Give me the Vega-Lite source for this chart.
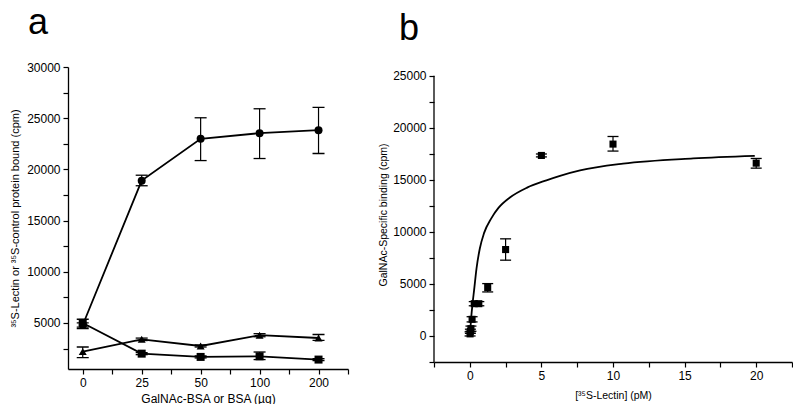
{
  "$schema": "https://vega.github.io/schema/vega-lite/v6.json",
  "padding": {"left": 9, "top": 5, "right": 0, "bottom": 0},
  "spacing": 29,
  "config": {
    "font": "Liberation Sans",
    "view": {"stroke": null},
    "axis": {
      "grid": false,
      "domainColor": "black",
      "tickColor": "black",
      "labelColor": "black",
      "titleColor": "black",
      "labelFontSize": 12,
      "titleFontSize": 11,
      "titleFontWeight": "normal",
      "tickSize": 5,
      "domainWidth": 1.3,
      "tickWidth": 1.2,
      "labelPadding": 3
    },
    "title": {"color": "black"}
  },
  "datasets": {
    "panelA": [
      {"series": "lectin_galnac", "idx": 0, "amount": 0, "cpm": 4800, "lo": 4600, "hi": 5000},
      {"series": "lectin_galnac", "idx": 1, "amount": 25, "cpm": 18900, "lo": 18400, "hi": 19430},
      {"series": "lectin_galnac", "idx": 2, "amount": 50, "cpm": 22980, "lo": 20860, "hi": 25040},
      {"series": "lectin_galnac", "idx": 3, "amount": 100, "cpm": 23540, "lo": 21060, "hi": 25920},
      {"series": "lectin_galnac", "idx": 4, "amount": 200, "cpm": 23830, "lo": 21550, "hi": 26050},
      {"series": "lectin_bsa", "idx": 0, "amount": 0, "cpm": 2200, "lo": 1610, "hi": 2650},
      {"series": "lectin_bsa", "idx": 1, "amount": 25, "cpm": 3400, "lo": 3280, "hi": 3520},
      {"series": "lectin_bsa", "idx": 2, "amount": 50, "cpm": 2750, "lo": 2650, "hi": 2850},
      {"series": "lectin_bsa", "idx": 3, "amount": 100, "cpm": 3800, "lo": 3650, "hi": 3950},
      {"series": "lectin_bsa", "idx": 4, "amount": 200, "cpm": 3530, "lo": 3300, "hi": 3870},
      {"series": "control", "idx": 0, "amount": 0, "cpm": 5000, "lo": 4450, "hi": 5360},
      {"series": "control", "idx": 1, "amount": 25, "cpm": 2000, "lo": 1900, "hi": 2100},
      {"series": "control", "idx": 2, "amount": 50, "cpm": 1680, "lo": 1580, "hi": 1780},
      {"series": "control", "idx": 3, "amount": 100, "cpm": 1740, "lo": 1420, "hi": 2160},
      {"series": "control", "idx": 4, "amount": 200, "cpm": 1420, "lo": 1330, "hi": 1510}
    ],
    "panelB": [
      {"pM": 0.02, "cpm": 200, "lo": 0, "hi": 400},
      {"pM": 0.04, "cpm": 450, "lo": 250, "hi": 650},
      {"pM": 0.08, "cpm": 700, "lo": 450, "hi": 950},
      {"pM": 0.16, "cpm": 1600, "lo": 1350, "hi": 1850},
      {"pM": 0.31, "cpm": 3100, "lo": 2900, "hi": 3300},
      {"pM": 0.63, "cpm": 3100, "lo": 2900, "hi": 3300},
      {"pM": 1.25, "cpm": 4650, "lo": 4230, "hi": 5030},
      {"pM": 2.5, "cpm": 8300, "lo": 7280, "hi": 9330},
      {"pM": 5, "cpm": 17340, "lo": 17200, "hi": 17480},
      {"pM": 10, "cpm": 18430, "lo": 17760, "hi": 19160},
      {"pM": 20, "cpm": 16600, "lo": 16120, "hi": 17050}
    ],
    "curveB": [
      {"pM": 0.05, "cpm": 900},
      {"pM": 0.1, "cpm": 1800},
      {"pM": 0.2, "cpm": 3200},
      {"pM": 0.3, "cpm": 4400},
      {"pM": 0.47, "cpm": 6500},
      {"pM": 0.7, "cpm": 8400},
      {"pM": 1.0, "cpm": 9900},
      {"pM": 1.5, "cpm": 11300},
      {"pM": 2.0, "cpm": 12300},
      {"pM": 2.8, "cpm": 13300},
      {"pM": 4.0, "cpm": 14250},
      {"pM": 5.35, "cpm": 14950},
      {"pM": 6.3, "cpm": 15380},
      {"pM": 7.7, "cpm": 15900},
      {"pM": 10.7, "cpm": 16550},
      {"pM": 15.6, "cpm": 17050},
      {"pM": 19.9, "cpm": 17300}
    ],
    "axisB": [
      {"pM": -2.5, "cpm": -2500, "hi": 25000}
    ]
  },
  "hconcat": [
    {
      "width": 280,
      "height": 302,
      "title": {"text": "a", "anchor": "start", "frame": "group", "fontSize": 36, "fontWeight": "normal", "dx": -40, "offset": 19},
      "data": {"name": "panelA"},
      "encoding": {
        "x": {"field": "idx", "type": "quantitative", "scale": {"domain": [-0.25, 4.5], "nice": false, "zero": false},
              "axis": {"title": "GalNAc-BSA or BSA (µg)", "titleFontSize": 12, "titlePadding": 5, "labelOverlap": false, "labelFlush": false, "values": [0, 0.5, 1, 1.5, 2, 2.5, 3, 3.5, 4, 4.5],
                       "labelExpr": "datum.value == 0 ? '0' : datum.value == 1 ? '25' : datum.value == 2 ? '50' : datum.value == 3 ? '100' : datum.value == 4 ? '200' : ''"}},
        "y": {"field": "cpm", "type": "quantitative", "scale": {"domain": [500, 30000], "nice": false, "zero": false},
              "axis": {"title": "³⁵S-Lectin or  ³⁵S-control protein bound (cpm)", "titlePadding": 6, "labelOverlap": false, "labelFlush": false, "values": [2500, 5000, 7500, 10000, 12500, 15000, 17500, 20000, 22500, 25000, 27500, 30000],
                       "labelExpr": "datum.value == 5000 ? '5000' : datum.value == 10000 ? '10000' : datum.value == 15000 ? '15000' : datum.value == 20000 ? '20000' : datum.value == 25000 ? '25000' : datum.value == 30000 ? '30000' : ''"}}
      },
      "layer": [
        {
          "mark": {"type": "line", "color": "black", "strokeWidth": 1.8},
          "encoding": {"detail": {"field": "series"}}
        },
        {
          "mark": {"type": "rule", "color": "black", "strokeWidth": 1.2},
          "encoding": {"y2": {"field": "lo"}}
        },
        {
          "mark": {"type": "rule", "color": "black", "strokeWidth": 1.2},
          "encoding": {"y2": {"field": "hi"}}
        },
        {
          "transform": [{"fold": ["lo", "hi"], "as": ["end", "cpm"]}],
          "mark": {"type": "tick", "orient": "horizontal", "color": "black", "size": 12, "thickness": 1.3, "opacity": 1},
          "encoding": {}
        },
        {
          "mark": {"type": "point", "filled": true, "color": "black", "opacity": 1, "size": 64},
          "encoding": {
            "shape": {"field": "series", "type": "nominal", "scale": {"domain": ["lectin_galnac", "lectin_bsa", "control"], "range": ["circle", "triangle-up", "square"]}, "legend": null}
          }
        }
      ]
    },
    {
      "width": 358,
      "height": 295,
      "title": {"text": "b", "anchor": "start", "frame": "group", "fontSize": 36, "fontWeight": "normal", "dx": -35, "offset": 19},
      "encoding": {
        "x": {"field": "pM", "type": "quantitative", "scale": {"domain": [-2.5, 22.5], "nice": false, "zero": false},
              "axis": {"title": "[³⁵S-Lectin] (pM)", "titleFontSize": 10.5, "titlePadding": 9, "labelOverlap": false, "labelFlush": false, "values": [-2.5, 0, 2.5, 5, 7.5, 10, 12.5, 15, 17.5, 20, 22.5],
                       "labelExpr": "datum.value == 0 ? '0' : datum.value == 5 ? '5' : datum.value == 10 ? '10' : datum.value == 15 ? '15' : datum.value == 20 ? '20' : ''"}},
        "y": {"field": "cpm", "type": "quantitative", "scale": {"domain": [-2500, 25835], "nice": false, "zero": false},
              "axis": {"title": "GalNAc-Specific binding (cpm)", "titleFontSize": 10.5, "titlePadding": 4, "domain": false, "labelOverlap": false, "labelFlush": false, "values": [-2500, 0, 2500, 5000, 7500, 10000, 12500, 15000, 17500, 20000, 22500, 25000],
                       "labelExpr": "datum.value == 0 ? '0' : datum.value == 5000 ? '5000' : datum.value == 10000 ? '10000' : datum.value == 15000 ? '15000' : datum.value == 20000 ? '20000' : datum.value == 25000 ? '25000' : ''"}}
      },
      "layer": [
        {
          "data": {"name": "axisB"},
          "mark": {"type": "rule", "color": "black", "strokeWidth": 1.3},
          "encoding": {"y2": {"field": "hi"}}
        },
        {
          "data": {"name": "curveB"},
          "mark": {"type": "line", "color": "black", "strokeWidth": 1.8, "interpolate": "monotone"},
          "encoding": {}
        },
        {
          "data": {"name": "panelB"},
          "mark": {"type": "rule", "color": "black", "strokeWidth": 1.2},
          "encoding": {"y2": {"field": "lo"}}
        },
        {
          "data": {"name": "panelB"},
          "mark": {"type": "rule", "color": "black", "strokeWidth": 1.2},
          "encoding": {"y2": {"field": "hi"}}
        },
        {
          "data": {"name": "panelB"},
          "transform": [{"fold": ["lo", "hi"], "as": ["end", "cpm"]}],
          "mark": {"type": "tick", "orient": "horizontal", "color": "black", "size": 11, "thickness": 1.3, "opacity": 1},
          "encoding": {}
        },
        {
          "data": {"name": "panelB"},
          "mark": {"type": "square", "color": "black", "opacity": 1, "size": 50},
          "encoding": {}
        }
      ]
    }
  ]
}
